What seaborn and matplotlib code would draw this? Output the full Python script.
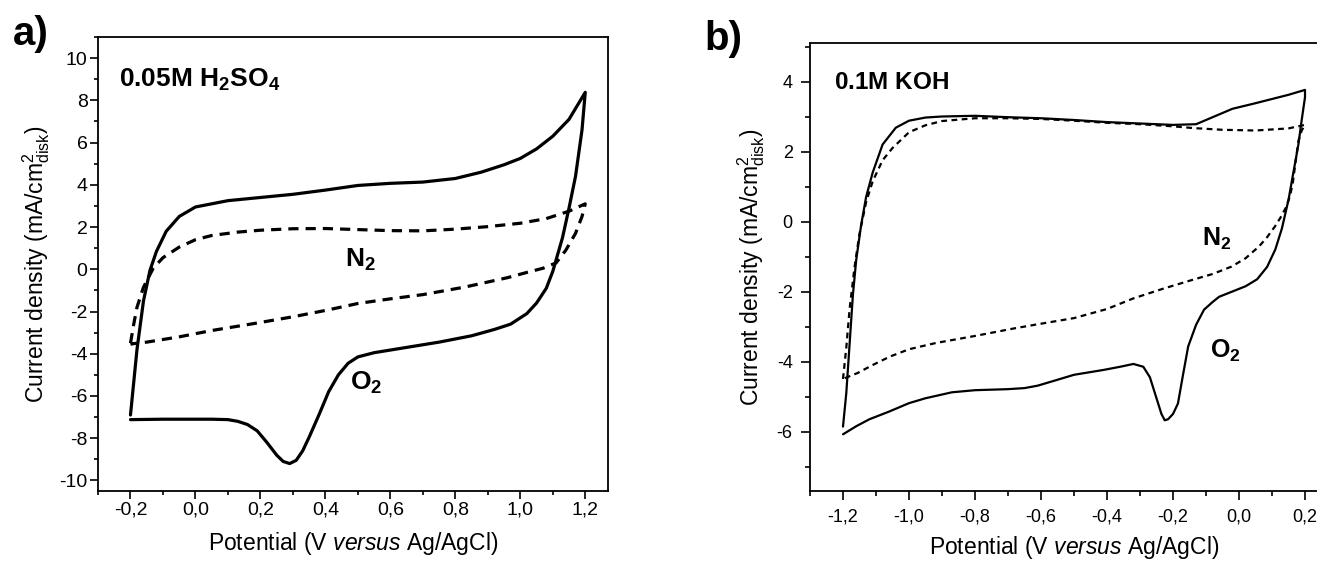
import numpy as np
import pandas as pd
import matplotlib
matplotlib.use("Agg")
import matplotlib.pyplot as plt
from matplotlib.ticker import MultipleLocator, FuncFormatter
import seaborn as sns

# ---------------- data ----------------
# Panel a) 0.05M H2SO4 -- O2 saturated (solid), anodic then cathodic sweep
a_o2_x = [-0.2, -0.18, -0.16, -0.14, -0.12, -0.09, -0.05, 0.0, 0.1, 0.2, 0.3, 0.4, 0.5, 0.6, 0.7,
          0.8, 0.88, 0.95, 1.0, 1.05, 1.1, 1.15, 1.2,
          1.19, 1.17, 1.15, 1.13, 1.10, 1.08, 1.05, 1.02, 0.97, 0.92, 0.85, 0.75, 0.65, 0.55, 0.5,
          0.47, 0.44, 0.41, 0.38, 0.35, 0.33, 0.31, 0.29, 0.27, 0.25, 0.22, 0.19, 0.16, 0.13, 0.1,
          0.05, 0.0, -0.1, -0.2]
a_o2_y = [-6.9, -3.8, -1.5, -0.05, 0.85, 1.8, 2.5, 2.95, 3.25, 3.4, 3.55, 3.75, 3.97, 4.07, 4.13,
          4.3, 4.6, 4.95, 5.25, 5.7, 6.3, 7.1, 8.38,
          6.6, 4.4, 2.9, 1.5, -0.1, -0.9, -1.6, -2.1, -2.6, -2.85, -3.15, -3.45, -3.7, -3.95, -4.15,
          -4.45, -5.0, -5.8, -6.9, -7.95, -8.6, -9.05, -9.2, -9.1, -8.8, -8.2, -7.65, -7.35, -7.2, -7.12,
          -7.1, -7.1, -7.1, -7.12]
# Panel a) N2 saturated (dashed)
a_n2_x = [-0.2, -0.19, -0.18, -0.16, -0.13, -0.1, -0.05, 0.0, 0.05, 0.13, 0.2, 0.3, 0.4, 0.5, 0.6,
          0.7, 0.8, 0.9, 1.0, 1.08, 1.15, 1.2,
          1.19, 1.17, 1.14, 1.11, 1.07, 1.02, 0.96, 0.83, 0.7, 0.6, 0.5, 0.4, 0.3, 0.18, 0.05,
          -0.05, -0.15, -0.19, -0.2]
a_n2_y = [-3.5, -2.6, -1.8, -0.85, 0.05, 0.55, 1.05, 1.4, 1.6, 1.76, 1.85, 1.92, 1.93, 1.88, 1.83,
          1.82, 1.9, 2.02, 2.18, 2.4, 2.75, 3.1,
          2.5, 1.7, 0.9, 0.3, 0.05, -0.15, -0.4, -0.84, -1.2, -1.4, -1.62, -1.95, -2.25, -2.57, -2.9,
          -3.2, -3.45, -3.52, -3.55]

# Panel b) 0.1M KOH -- O2 saturated (solid)
b_o2_x = [-1.2, -1.19, -1.18, -1.17, -1.16, -1.145, -1.13, -1.11, -1.08, -1.04, -1.0, -0.95, -0.9,
          -0.8, -0.7, -0.6, -0.5, -0.4, -0.3, -0.2, -0.13, -0.08, -0.02, 0.05, 0.1, 0.15, 0.2,
          0.2, 0.19, 0.18, 0.168, 0.15, 0.13, 0.11, 0.085, 0.055, 0.02, -0.02, -0.06, -0.08, -0.106,
          -0.13, -0.154, -0.17, -0.185, -0.2, -0.215, -0.225, -0.235, -0.25, -0.27, -0.29, -0.32,
          -0.36, -0.41, -0.5, -0.56, -0.61, -0.65, -0.7, -0.8, -0.87, -0.95, -1.0, -1.06, -1.12,
          -1.16, -1.2]
b_o2_y = [-5.86, -4.9, -3.5, -2.1, -1.1, -0.1, 0.7, 1.4, 2.2, 2.68, 2.88, 2.97, 3.0,
          3.02, 2.98, 2.95, 2.9, 2.84, 2.8, 2.76, 2.78, 2.98, 3.22, 3.38, 3.5, 3.62, 3.76,
          3.55, 2.9, 2.2, 1.57, 0.62, -0.2, -0.8, -1.3, -1.65, -1.85, -2.0, -2.15, -2.3, -2.52,
          -2.95, -3.57, -4.4, -5.2, -5.5, -5.65, -5.68, -5.5, -5.05, -4.45, -4.15, -4.07,
          -4.15, -4.24, -4.38, -4.55, -4.69, -4.76, -4.79, -4.82, -4.88, -5.05, -5.19, -5.43, -5.65,
          -5.85, -6.08]
# Panel b) N2 saturated (dashed)
b_n2_x = [-1.2, -1.19, -1.18, -1.165, -1.15, -1.13, -1.11, -1.08, -1.05, -1.0, -0.95, -0.9, -0.8,
          -0.7, -0.6, -0.5, -0.4, -0.3, -0.2, -0.14, -0.05, 0.05, 0.15, 0.2,
          0.19, 0.18, 0.17, 0.163, 0.155, 0.144, 0.125, 0.109, 0.085, 0.061, 0.02, -0.023, -0.08,
          -0.142, -0.23, -0.321, -0.4, -0.5, -0.6, -0.679, -0.8, -0.918, -1.0, -1.058, -1.11,
          -1.156, -1.18, -1.2]
b_n2_y = [-4.5, -3.6, -2.5, -1.3, -0.35, 0.55, 1.15, 1.75, 2.1, 2.55, 2.75, 2.87, 2.95,
          2.95, 2.93, 2.88, 2.82, 2.78, 2.72, 2.67, 2.62, 2.6, 2.66, 2.76,
          2.6, 2.3, 1.6, 1.1, 0.75, 0.43, 0.1, -0.14, -0.45, -0.71, -1.05, -1.29, -1.5,
          -1.67, -1.92, -2.2, -2.5, -2.76, -2.92, -3.05, -3.27, -3.47, -3.65, -3.86, -4.1,
          -4.33, -4.42, -4.5]

a_xticks = [-0.2, 0.0, 0.2, 0.4, 0.6, 0.8, 1.0, 1.2]
a_yticks = [-10, -8, -6, -4, -2, 0, 2, 4, 6, 8, 10]
b_xticks = [-1.2, -1.0, -0.8, -0.6, -0.4, -0.2, 0.0, 0.2]
b_yticks = [-6, -4, -2, 0, 2, 4]

# ---------------- style ----------------
sns.set_theme(style="ticks")
plt.rcParams["font.family"] = ["Liberation Sans", "DejaVu Sans"]
plt.rcParams["mathtext.fontset"] = "custom"
plt.rcParams["mathtext.rm"] = "Liberation Sans"
plt.rcParams["mathtext.it"] = "Liberation Sans:italic"
plt.rcParams["mathtext.bf"] = "Liberation Sans:bold"
plt.rcParams["axes.edgecolor"] = "black"
plt.rcParams["axes.linewidth"] = 1.3
plt.rcParams["xtick.color"] = "black"
plt.rcParams["ytick.color"] = "black"
plt.rcParams["text.color"] = "black"
plt.rcParams["axes.labelcolor"] = "black"
plt.rcParams["xtick.labelcolor"] = "black"
plt.rcParams["ytick.labelcolor"] = "black"

W, H = 1317, 567
fig = plt.figure(figsize=(W / 100, H / 100), dpi=100)

ax_a = fig.add_axes([98 / W, (H - 491) / H, 510 / W, 454 / H])
ax_b = fig.add_axes([810 / W, (H - 491) / H, 528 / W, 448 / H])

comma1 = FuncFormatter(lambda v, p: f"{v:.1f}".replace(".", ",").replace("-0,0", "0,0"))
intfmt = FuncFormatter(lambda v, p: f"{int(round(v))}")


def loop(ax, x, y, lw, ls):
    df = pd.DataFrame({"x": x, "y": y})
    sns.lineplot(data=df, x="x", y="y", sort=False, estimator=None, ax=ax,
                 color="black", lw=lw, linestyle=ls)


# Panel a
loop(ax_a, a_o2_x, a_o2_y, 2.3, "-")
loop(ax_a, a_n2_x, a_n2_y, 2.3, (0, (3.2, 2.2)))
ax_a.set_xlim(-0.3, 1.27)
ax_a.set_ylim(-10.5, 11)
ax_a.set_xticks(a_xticks)
ax_a.set_yticks(a_yticks)
ax_a.xaxis.set_major_formatter(comma1)
ax_a.yaxis.set_major_formatter(intfmt)
ax_a.xaxis.set_minor_locator(MultipleLocator(0.1))
ax_a.yaxis.set_minor_locator(MultipleLocator(1))
ax_a.tick_params(which="both", direction="out", top=False, right=False, width=1.2)
ax_a.tick_params(which="major", length=5.5, labelsize=14, pad=2)
ax_a.tick_params(which="minor", length=3)
ax_a.set_xlabel(r"Potential (V $\mathit{versus}$ Ag/AgCl)", fontsize=16.5, labelpad=8)
ax_a.set_ylabel(r"Current density (mA/cm$^{2}_{\rm disk}$)", fontsize=16.5, labelpad=5)
ax_a.text(-0.235, 8.66, r"$\mathbf{0.05M\ H_2SO_4}$", fontsize=19, va="baseline", ha="left")
ax_a.text(0.46, 0.1, r"$\mathbf{N_2}$", fontsize=19, va="baseline", ha="left")
ax_a.text(0.475, -5.72, r"$\mathbf{O_2}$", fontsize=19, va="baseline", ha="left")

# Panel b
loop(ax_b, b_o2_x, b_o2_y, 1.6, "-")
loop(ax_b, b_n2_x, b_n2_y, 1.6, (0, (2.6, 2.0)))
ax_b.set_xlim(-1.3, 0.3)
ax_b.set_ylim(-7.7, 5.1)
ax_b.set_xticks(b_xticks)
ax_b.set_yticks(b_yticks)
ax_b.xaxis.set_major_formatter(comma1)
ax_b.yaxis.set_major_formatter(intfmt)
ax_b.xaxis.set_minor_locator(MultipleLocator(0.1))
ax_b.yaxis.set_minor_locator(MultipleLocator(1))
ax_b.tick_params(which="both", direction="out", top=False, right=False, width=1.2)
ax_b.tick_params(which="major", length=6.5, labelsize=13, pad=6)
ax_b.tick_params(which="minor", length=3.5)
ax_b.set_xlabel(r"Potential (V $\mathit{versus}$ Ag/AgCl)", fontsize=16.5, labelpad=6)
ax_b.set_ylabel(r"Current density (mA/cm$^{2}_{\rm disk}$)", fontsize=16.5, labelpad=7)
ax_b.text(0.045, 0.897, r"$\mathbf{0.1M\ KOH}$", transform=ax_b.transAxes, fontsize=17.5,
          va="baseline", ha="left")
ax_b.text(-0.112, -0.7, r"$\mathbf{N_2}$", fontsize=18, va="baseline", ha="left")
ax_b.text(-0.089, -3.9, r"$\mathbf{O_2}$", fontsize=18, va="baseline", ha="left")

fig.text(13 / W, 1 - 45 / H, "a)", fontsize=29, fontweight="bold", va="baseline", ha="left")
fig.text(704 / W, 1 - 50 / H, "b)", fontsize=29, fontweight="bold", va="baseline", ha="left")

fig.savefig("out.png", dpi=100, facecolor="white")
